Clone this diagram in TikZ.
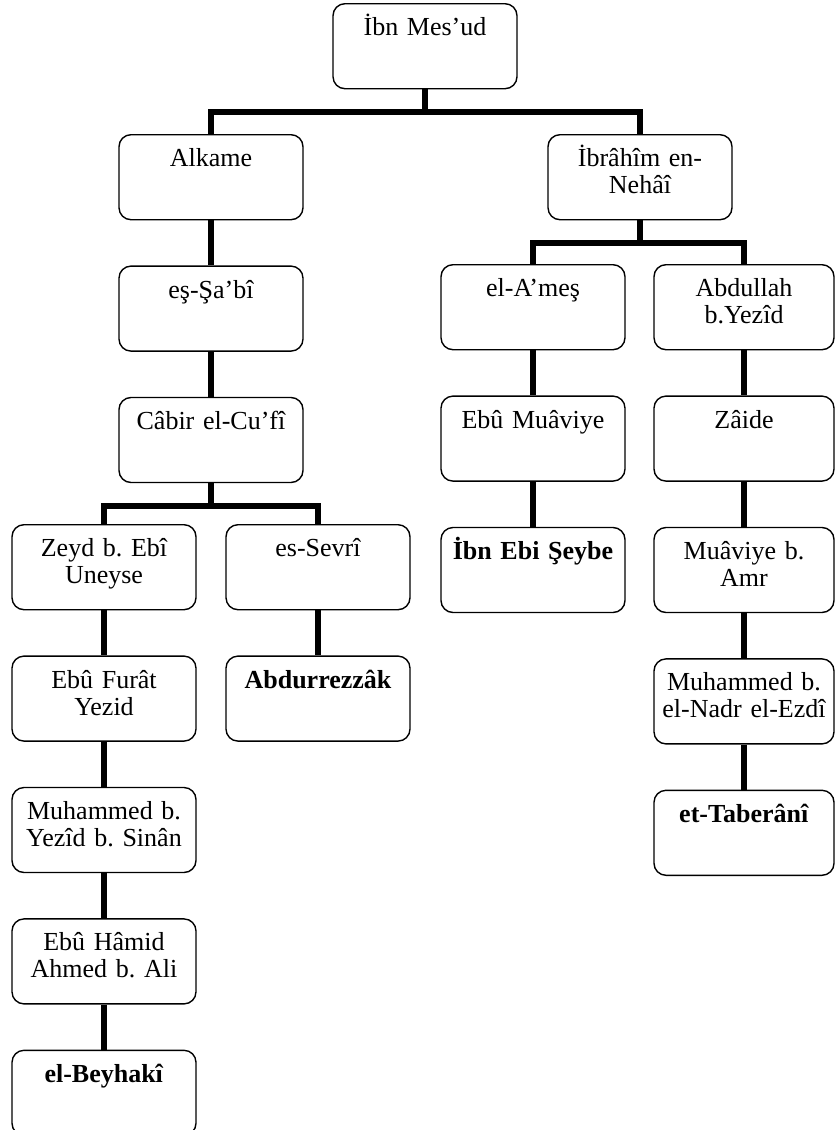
\documentclass[tikz,border=0pt]{standalone}
\usepackage{fontspec}
\setmainfont{Liberation Serif}
\usepackage{tikz}
\usetikzlibrary{positioning}
\frenchspacing

\begin{document}
\begin{tikzpicture}[x=1pt, y=1pt,
        kisi/.style={draw, rounded corners=12pt, line width=1.4pt, anchor=north,
                     minimum width=184pt, text width=184pt, inner xsep=0pt, inner ysep=0pt,
                     align=center, text height=32pt, text depth=53pt,
                     font=\fontsize{26}{27}\selectfont},
        dar/.style={kisi, minimum width=180pt, text width=180pt},
        bag/.style={line width=6pt}
    ]
    \useasboundingbox (0,0) rectangle (835,-1130);
    % top of the chain
    \node[kisi] (ibnmesud) at (425,-3) {İbn Mes’ud};
    \node[kisi] (alkame) at (211,-134) {Alkame};
    \node[kisi] (ibrahim) at (640,-134) {İbrâhîm en-\\Nehâî};
    % Alkame line
    \node[kisi, below=45pt of alkame] (sabi) {eş-Şa’bî};
    \node[kisi, below=45pt of sabi] (cabir) {Câbir el-Cu’fî};
    \node[kisi] (zeyd) at (104,-524) {Zeyd b. Ebî\\Uneyse};
    \node[kisi] (sevri) at (318,-524) {es-Sevrî};
    \node[kisi, below=45pt of zeyd] (ebufurat) {Ebû Furât\\Yezid};
    \node[kisi, below=45pt of ebufurat] (yezid) {Muhammed b.\\Yezîd b. Sinân};
    \node[kisi, below=45pt of yezid] (ebuhamid) {Ebû Hâmid\\Ahmed b. Ali};
    \node[kisi, below=45pt of ebuhamid] (beyhaki) {\textbf{el-Beyhakî}};
    \node[kisi, below=45pt of sevri] (abdurrezzak) {\textbf{Abdurrezzâk}};
    % Ibrahim line
    \node[kisi] (ames) at (533,-264) {el-A’meş};
    \node[dar] (abdullah) at (744,-264) {Abdullah\\b.Yezîd};
    \node[kisi, below=45pt of ames] (ebumuaviye) {Ebû Muâviye};
    \node[kisi, below=45pt of ebumuaviye] (ibnebiseybe) {\textbf{İbn Ebi Şeybe}};
    \node[dar, below=45pt of abdullah] (zaide) {Zâide};
    \node[dar, below=45pt of zaide] (muaviye) {Muâviye b.\\Amr};
    \node[dar, below=45pt of muaviye] (nadr) {Muhammed b.\\el-Nadr el-Ezdî};
    \node[dar, below=45pt of nadr] (taberani) {\textbf{et-Taberânî}};

    % branches
    \draw[bag] (ibnmesud.south) -- ++(0,-23) -| (alkame.north);
    \draw[bag] (ibnmesud.south) -- ++(0,-23) -| (ibrahim.north);
    \draw[bag] (ibrahim.south) -- ++(0,-23) -| (ames.north);
    \draw[bag] (ibrahim.south) -- ++(0,-23) -| (abdullah.north);
    \draw[bag] (cabir.south) -- ++(0,-23) -| (zeyd.north);
    \draw[bag] (cabir.south) -- ++(0,-23) -| (sevri.north);
    % straight links
    \draw[bag] (alkame) -- (sabi);
    \draw[bag] (sabi) -- (cabir);
    \draw[bag] (zeyd) -- (ebufurat);
    \draw[bag] (ebufurat) -- (yezid);
    \draw[bag] (yezid) -- (ebuhamid);
    \draw[bag] (ebuhamid) -- (beyhaki);
    \draw[bag] (sevri) -- (abdurrezzak);
    \draw[bag] (ames) -- (ebumuaviye);
    \draw[bag] (ebumuaviye) -- (ibnebiseybe);
    \draw[bag] (abdullah) -- (zaide);
    \draw[bag] (zaide) -- (muaviye);
    \draw[bag] (muaviye) -- (nadr);
    \draw[bag] (nadr) -- (taberani);
\end{tikzpicture}
\end{document}
